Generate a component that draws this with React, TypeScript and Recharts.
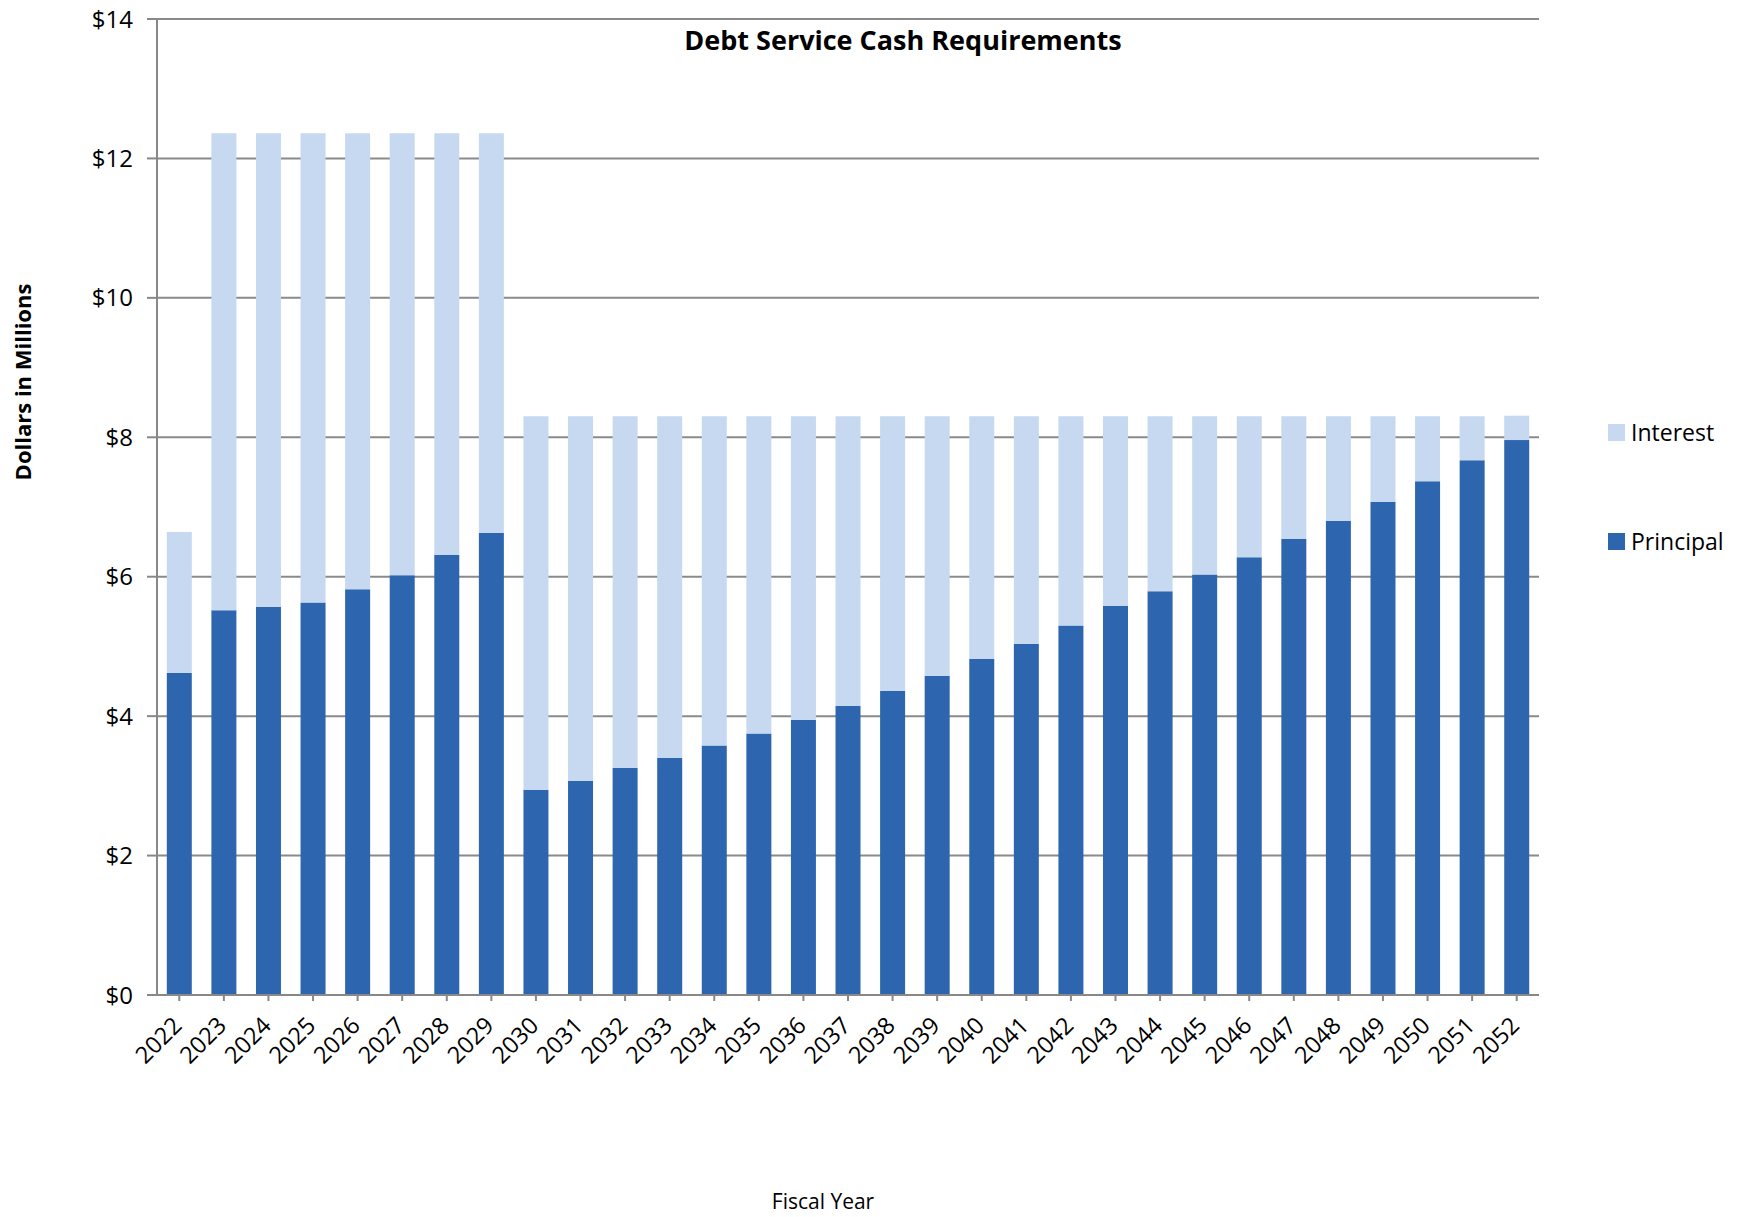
import React from 'react'
import { Bar, BarChart, CartesianGrid, XAxis, YAxis } from 'recharts'

// Fiscal years on the x axis
const years = [
  '2022', '2023', '2024', '2025', '2026', '2027', '2028', '2029', '2030', '2031', '2032',
  '2033', '2034', '2035', '2036', '2037', '2038', '2039', '2040', '2041', '2042', '2043',
  '2044', '2045', '2046', '2047', '2048', '2049', '2050', '2051', '2052',
]

// $ millions
const principal = [
  4.62, 5.52, 5.57, 5.63, 5.82, 6.02, 6.31, 6.63, 2.94, 3.07, 3.26,
  3.40, 3.58, 3.75, 3.95, 4.15, 4.36, 4.58, 4.82, 5.04, 5.30, 5.58,
  5.79, 6.03, 6.28, 6.54, 6.80, 7.07, 7.37, 7.67, 7.96,
]

const interest = [
  2.02, 6.84, 6.79, 6.73, 6.54, 6.34, 6.05, 5.73, 5.36, 5.23, 5.04,
  4.90, 4.72, 4.55, 4.35, 4.15, 3.94, 3.72, 3.48, 3.26, 3.00, 2.72,
  2.51, 2.27, 2.02, 1.76, 1.50, 1.23, 0.93, 0.63, 0.35,
]

const yTicks = [0, 2, 4, 6, 8, 10, 12, 14]

const PRINCIPAL_COLOR = '#2d66ae'
const INTEREST_COLOR = '#c6d9f0'

// legend shows interest on top, principal below
const legendItems = [
  { name: 'Interest', color: INTEREST_COLOR },
  { name: 'Principal', color: PRINCIPAL_COLOR },
]

const FONT = '"Open Sans", Lato, sans-serif'

const chartData = years.map((year, i) => ({
  year,
  principal: principal[i],
  interest: interest[i],
}))

const YearTick = ({ x, y, payload }: any) => (
  <g transform={`translate(${x + 4},${y + 24})`}>
    <text
      x={0}
      y={0}
      textAnchor="end"
      transform="rotate(-45)"
      fontSize={23.5}
      fontFamily={FONT}
      fill="#000"
    >
      {payload.value}
    </text>
  </g>
)

export default function App() {
  return (
    <div style={{ position: 'relative', width: 1731, height: 1209, fontFamily: FONT }}>
      <style>{'.recharts-surface { overflow: visible; }'}</style>
      <BarChart
        width={1731}
        height={1209}
        data={chartData}
        margin={{ top: 11, right: 200, left: 89, bottom: 162 }}
        barCategoryGap="22%"
      >
        <CartesianGrid vertical={false} stroke="#8a8a8a" strokeWidth={2} />
        <XAxis
          dataKey="year"
          interval={0}
          height={60}
          tickSize={6}
          tick={<YearTick />}
          axisLine={{ stroke: '#888', strokeWidth: 2 }}
          tickLine={{ stroke: '#888', strokeWidth: 2 }}
        />
        <YAxis
          width={60}
          domain={[0, 14]}
          ticks={yTicks}
          interval={0}
          tickSize={10}
          tickMargin={14}
          tickFormatter={(v: number) => `$${v}`}
          tick={{ fontSize: 24, fontFamily: FONT, fill: '#000' }}
          axisLine={{ stroke: '#888', strokeWidth: 2 }}
          tickLine={{ stroke: '#888', strokeWidth: 2 }}
        />
        <Bar dataKey="principal" stackId="debt" fill={PRINCIPAL_COLOR} isAnimationActive={false} />
        <Bar dataKey="interest" stackId="debt" fill={INTEREST_COLOR} isAnimationActive={false} />
      </BarChart>

      <div
        style={{
          position: 'absolute',
          left: 895,
          top: 31,
          transform: 'translate(-50%, -50%)',
          fontSize: 27,
          fontWeight: 700,
          whiteSpace: 'nowrap',
        }}
      >
        Debt Service Cash Requirements
      </div>

      <div
        style={{
          position: 'absolute',
          left: 14,
          top: 374,
          transform: 'translate(-50%, -50%) rotate(-90deg)',
          fontSize: 22,
          fontWeight: 700,
          whiteSpace: 'nowrap',
        }}
      >
        Dollars in Millions
      </div>

      <div
        style={{
          position: 'absolute',
          left: 815,
          top: 1193,
          transform: 'translate(-50%, -50%)',
          fontSize: 21,
          whiteSpace: 'nowrap',
        }}
      >
        Fiscal Year
      </div>

      <div style={{ position: 'absolute', left: 1600, top: 408 }}>
        {legendItems.map((item) => (
          <div
            key={item.name}
            style={{ display: 'flex', alignItems: 'center', height: 32, marginBottom: 77, fontSize: 23 }}
          >
            <span
              style={{ display: 'inline-block', width: 17, height: 17, background: item.color, marginRight: 6 }}
            />
            {item.name}
          </div>
        ))}
      </div>
    </div>
  )
}
